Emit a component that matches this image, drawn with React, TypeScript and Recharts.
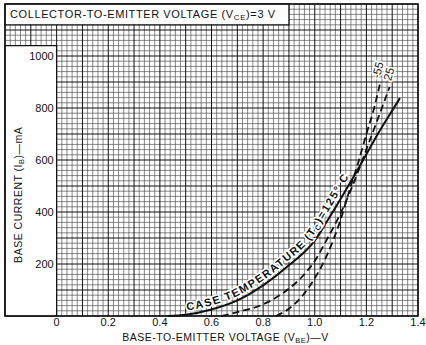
import React from 'react';
import {
  CartesianGrid,
  Curve,
  Line,
  LineChart,
  ReferenceArea,
  ReferenceDot,
  XAxis,
  YAxis,
} from 'recharts';

const FONT = '"Liberation Sans", Arial, sans-serif';

// case temperature 125 C (solid)
const vbe125 = [0.43, 0.5, 0.6, 0.7, 0.8, 0.9, 1.0, 1.05, 1.1, 1.15, 1.2, 1.25, 1.3, 1.33];
const ib125 = [0, 5, 25, 60, 118, 195, 290, 368, 450, 535, 622, 710, 790, 838];

// 25 C (dashed)
const vbe25 = [0.64, 0.7, 0.8, 0.9, 0.95, 1.0, 1.05, 1.1, 1.14, 1.2, 1.23, 1.26, 1.29];
const ib25 = [0, 15, 45, 105, 150, 212, 300, 395, 485, 640, 720, 800, 881];

// -55 C (dashed)
const vbeM55 = [0.85, 0.9, 0.95, 1.0, 1.05, 1.1, 1.135, 1.17, 1.2, 1.23, 1.252];
const ibM55 = [0, 28, 75, 145, 240, 370, 485, 595, 700, 800, 890];

const xTicks = [0, 0.2, 0.4, 0.6, 0.8, 1.0, 1.2, 1.4];
const xTickLabels = ['0', '0.2', '0.4', '0.6', '0.8', '1.0', '1.2', '1.4'];
const yTicks = [200, 400, 600, 800, 1000];
const yTickLabels = ['200', '400', '600', '800', '1000'];

const toData = (xs: number[], ys: number[]) => xs.map((v, i) => ({ v, ib: ys[i] }));
const data125 = toData(vbe125, ib125);
const data25 = toData(vbe25, ib25);
const dataM55 = toData(vbeM55, ibM55);

// graph paper: fine every 0.02 V / 20 mA, heavy every 0.1 V / 100 mA
const minorX: number[] = [];
for (let i = -10; i <= 70; i++) if (i % 5 !== 0) minorX.push(i / 50);
const majorX: number[] = [];
for (let i = -2; i <= 14; i++) majorX.push(i / 10);
const minorY: number[] = [];
for (let i = 0; i <= 60; i++) if (i % 5 !== 0) minorY.push(i * 20);
const majorY: number[] = [];
for (let i = 0; i <= 12; i++) majorY.push(i * 100);

const scaleOf = (axis: any, v: number) => {
  const s = axis?.scale;
  if (!s) return NaN;
  return typeof s === 'function' ? s(v) : s.map(v);
};
const xLines = (vals: number[]) => (p: any) => vals.map((v) => scaleOf(p.xAxis, v));
const yLines = (vals: number[]) => (p: any) => vals.map((v) => scaleOf(p.yAxis, v));

const txt = { fontFamily: FONT, fill: '#111' };

function curveText(props: any) {
  const { index, points } = props;
  if (index !== 0 || !points) return <g key={`dot-${index}`} />;
  return (
    <g key="tc-text">
      <Curve type="monotoneX" points={points} id="tc-path" fill="none" stroke="none" />
      <text {...txt} fontSize={11} fontWeight="bold" stroke="#fff" strokeWidth={3}
        paintOrder="stroke" letterSpacing={1.6} dy={-4}>
        <textPath href="#tc-path" startOffset={20}>
          CASE TEMPERATURE (T<tspan fontSize={7.5} dy={2}>C</tspan>
          <tspan dy={-2}>)=125° C</tspan>
        </textPath>
      </text>
    </g>
  );
}

const rotatedTag = (value: string) => (p: any) => {
  const x = p.viewBox?.x ?? 0;
  const y = p.viewBox?.y ?? 0;
  return (
    <text {...txt} x={x} y={y} fontSize={11.5} textAnchor="middle" dominantBaseline="central"
      transform={`rotate(-75 ${x} ${y})`} stroke="#fff" strokeWidth={3} paintOrder="stroke">
      {value}
    </text>
  );
};

const titleLabel = (p: any) => {
  const vb = p.viewBox || { x: 0, y: 0, width: 0, height: 0 };
  return (
    <text {...txt} x={vb.x + 5} y={vb.y + vb.height / 2} fontSize={11}
      dominantBaseline="central" letterSpacing={0.6}>
      COLLECTOR-TO-EMITTER VOLTAGE (V<tspan fontSize={8} dy={3}>CE</tspan>
      <tspan dy={-3}>)=3 V</tspan>
    </text>
  );
};

const yTitle = (p: any) => {
  const vb = p.viewBox || { x: 0, y: 0, width: 0, height: 0 };
  const x = vb.x + 13;
  const y = vb.y + vb.height / 2 + 14;
  return (
    <text {...txt} x={x} y={y} fontSize={10.5} textAnchor="middle" dominantBaseline="central"
      transform={`rotate(-90 ${x} ${y})`} letterSpacing={0.5}>
      BASE CURRENT (I<tspan fontSize={7.5} dy={3}>B</tspan>
      <tspan dy={-3}>)—mA</tspan>
    </text>
  );
};

const xTitle = (p: any) => {
  const vb = p.viewBox || { x: 0, y: 0, width: 0, height: 0 };
  return (
    <text {...txt} x={vb.x + vb.width / 2 + 14} y={vb.y + 21} fontSize={10.5}
      textAnchor="middle" dominantBaseline="central" letterSpacing={0.5}>
      BASE-TO-EMITTER VOLTAGE (V<tspan fontSize={7.5} dy={3}>BE</tspan>
      <tspan dy={-3}>)—V</tspan>
    </text>
  );
};

export default function App() {
  return (
    <div style={{ position: 'absolute', left: 0, top: 0, background: '#fff' }}>
      <LineChart width={426} height={345} margin={{ top: 4, right: 8, left: 5, bottom: 0 }}>
        <CartesianGrid stroke="#555" strokeWidth={0.7}
          verticalCoordinatesGenerator={xLines(minorX)}
          horizontalCoordinatesGenerator={yLines(minorY)} />
        <CartesianGrid stroke="#111" strokeWidth={1}
          verticalCoordinatesGenerator={xLines(majorX)}
          horizontalCoordinatesGenerator={yLines(majorY)} />
        <XAxis
          type="number"
          dataKey="v"
          domain={[-0.2, 1.4]}
          ticks={xTicks}
          tickFormatter={(v: number) => xTickLabels[xTicks.indexOf(v)] ?? ''}
          tick={{ fontFamily: FONT, fontSize: 11, fill: '#111' }}
          tickLine={false}
          axisLine={false}
          tickSize={0}
          tickMargin={2}
          height={29}
          interval={0}
          label={xTitle}
        />
        <YAxis type="number" domain={[0, 1200]} hide />

        <ReferenceArea x1={-0.2} x2={0} y1={0} y2={1040} fill="#fff" fillOpacity={1}
          stroke="#111" strokeWidth={1.2} label={yTitle} />
        <ReferenceArea x1={-0.2} x2={0.9} y1={1120} y2={1200} fill="#fff" fillOpacity={1}
          stroke="#111" strokeWidth={1.2} label={titleLabel} />
        <ReferenceArea x1={-0.2} x2={1.4} y1={0} y2={1200} fill="none" stroke="#111"
          strokeWidth={1.5} />

        {yTicks.map((v, i) => (
          <ReferenceDot key={`yt${v}`} x={0} y={v} r={0} stroke="none"
            label={{ value: yTickLabels[i], position: 'left', offset: 3, fontSize: 11, fontFamily: FONT, fill: '#111' }} />
        ))}

        <Line data={dataM55} dataKey="ib" type="monotone" stroke="#111" strokeWidth={1.8}
          strokeDasharray="7 4" dot={false} activeDot={false} isAnimationActive={false} />
        <Line data={data25} dataKey="ib" type="monotone" stroke="#111" strokeWidth={1.8}
          strokeDasharray="7 4" dot={false} activeDot={false} isAnimationActive={false} />
        <Line data={data125} dataKey="ib" type="monotone" stroke="#111" strokeWidth={2}
          dot={curveText} activeDot={false} isAnimationActive={false} />

        <ReferenceDot x={1.244} y={946} r={0} stroke="none" label={rotatedTag('-55')} />
        <ReferenceDot x={1.287} y={931} r={0} stroke="none" label={rotatedTag('25')} />
      </LineChart>
    </div>
  );
}
